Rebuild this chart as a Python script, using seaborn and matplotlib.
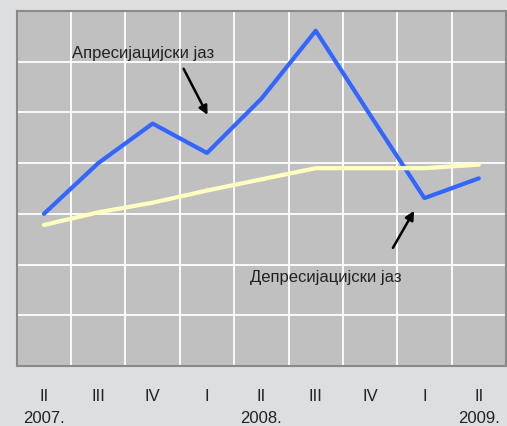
import matplotlib
matplotlib.use("Agg")
import matplotlib.pyplot as plt
import seaborn as sns
import pandas as pd

# Quarterly labels and years
quarters = ["II", "III", "IV", "I", "II", "III", "IV", "I", "II"]
years = {0: "2007.", 4: "2008.", 8: "2009."}

# Gap series
appreciation_gap = [3.0, 4.0, 4.78, 4.2, 5.27, 6.61, 4.95, 3.31, 3.70]
depreciation_gap = [2.78, 3.03, 3.22, 3.46, 3.68, 3.90, 3.90, 3.90, 3.97]

df = pd.DataFrame({
    "t": list(range(len(quarters))) * 2,
    "value": appreciation_gap + depreciation_gap,
    "series": ["appr"] * len(quarters) + ["depr"] * len(quarters),
})

sns.set_style("white")
plt.rcParams["font.family"] = ["Liberation Sans", "DejaVu Sans"]

fig = plt.figure(figsize=(5.07, 4.27), dpi=100)
fig.patch.set_facecolor("#dddee0")
ax = fig.add_axes([0.033, 0.1405, 0.965, 0.8315])
ax.set_facecolor("#c0c0c0")

sns.lineplot(data=df, x="t", y="value", hue="series",
             palette={"appr": "#3366ff", "depr": "#ffffc0"},
             linewidth=3.0, legend=False, ax=ax, zorder=3)

ax.set_xlim(-0.5, len(quarters) - 0.5)
ax.set_ylim(0, 7)

# White grid on the column and row boundaries
for xv in [i + 0.5 for i in range(len(quarters) - 1)]:
    ax.axvline(xv, color="white", lw=1.3, zorder=1)
for yv in range(1, 7):
    ax.axhline(yv, color="white", lw=1.3, zorder=1)

ax.set_xticks([])
ax.set_yticks([])
ax.set_xlabel("")
ax.set_ylabel("")
for s in ax.spines.values():
    s.set_color("#8a8a8a")
    s.set_linewidth(1.5)

fs = 12
xt = ax.get_xaxis_transform()
for i, q in enumerate(quarters):
    ax.text(i, -0.082, q, transform=xt, ha="center", va="center",
            fontsize=fs, color="#222222", clip_on=False)
for i, y in years.items():
    ax.text(i, -0.146, y, transform=xt, ha="center", va="center",
            fontsize=fs, color="#222222", clip_on=False)

arrow = dict(arrowstyle="-|>", color="black", lw=1.8, mutation_scale=13,
             shrinkA=0, shrinkB=0)
ax.text(1.83, 6.19, "Апресијацијски јаз", ha="center", va="center",
        fontsize=fs, color="#222222", zorder=4)
ax.annotate("", xy=(3.01, 4.95), xytext=(2.57, 5.86), arrowprops=arrow, zorder=4)

ax.text(5.18, 1.76, "Депресијацијски јаз", ha="center", va="center",
        fontsize=fs, color="#222222", zorder=4)
ax.annotate("", xy=(6.81, 3.06), xytext=(6.42, 2.33), arrowprops=arrow, zorder=4)

fig.savefig("out.png", dpi=100, facecolor=fig.get_facecolor())
